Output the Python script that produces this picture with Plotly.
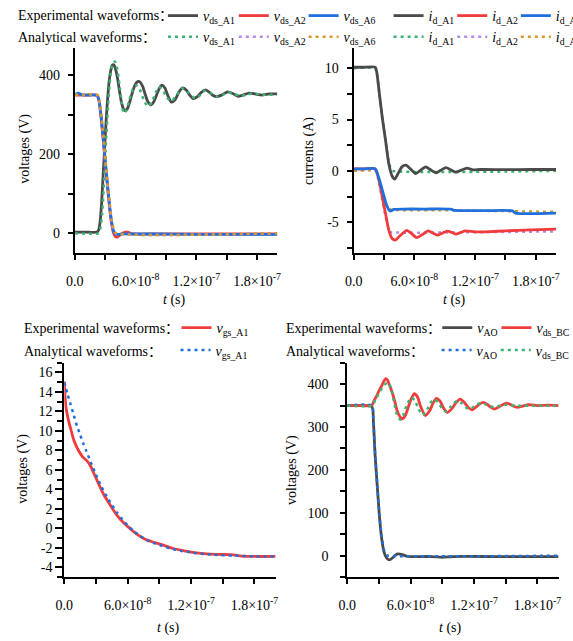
import plotly.graph_objects as go

# Reference frame is 573 x 641; the page is laid out 588 px wide because the
# capture squeezes the page width onto 573 px.
W_REF, H = 573, 641
W_PAGE = 588
KX = W_PAGE / W_REF
FONT = "Liberation Serif, Times New Roman, Noto Sans CJK SC, serif"

# ---------------- data (time in ns) ----------------
# top-left: drain-source voltages
T_VDS_A1_EXP = [0, 10, 22, 23.5, 25, 26.5, 28, 29.5, 31, 32.5, 34, 35.5, 37, 38.5, 40, 42, 44, 46, 48, 50,
                52, 54.5, 57, 59.5, 62, 64.5, 67, 69.5, 72, 75, 78, 81, 84, 86, 89, 92, 95.5, 99, 102.5, 106.5,
                110, 113.5, 117, 121, 125, 129, 133, 136.5, 140, 145, 151, 156, 161, 166, 172, 178, 185, 192, 200]
V_DS_A1_EXP = [3, 3, 3, 8, 30, 80, 150, 220, 290, 345, 388, 413, 426, 427, 418, 395, 362, 332, 315, 310,
               316, 335, 358, 376, 384, 383, 372, 352, 334, 325, 333, 352, 370, 375, 368, 348, 332, 338, 356, 368,
               363, 350, 341, 346, 357, 363, 357, 349, 346, 350, 358, 354, 347, 350, 355, 353, 350, 353, 353]
T_VDS_A2_EXP = [0, 10, 21, 22.5, 24, 26, 28, 29, 30, 32, 34, 36, 38, 40, 42, 44, 47, 50, 53, 56, 60, 80, 120, 160, 200]
V_DS_A2_EXP = [350, 350, 350, 347, 333, 290, 237, 208, 180, 125, 72, 28, 2, -8, -10, -6, 0, 3, 2, -1, -2, -2, -2, -2, -2]
T_VDS_A6_EXP = [0, 3, 6, 10, 21, 22.5, 24, 26, 28, 29, 30, 32, 34, 36, 38, 40, 43, 47, 55, 80, 120, 160, 200]
V_DS_A6_EXP = [350, 355, 352, 350, 350, 347, 335, 295, 242, 213, 185, 130, 78, 35, 8, -2, -3, -2, -2, -2, -3, -3, -3]

T_VDS_A1_ANA = [0, 23.5, 25, 27, 29, 31, 33, 35, 37, 39.7, 42, 44, 46, 48.4, 51, 54, 57.5, 60.6, 64, 68, 72, 76,
                80, 83, 87, 91, 95.5, 100, 105.8, 112, 118.7, 123, 128.4, 135, 141, 146, 151, 157, 164, 170,
                175, 185, 200]
V_DS_A1_ANA = [0, 0, 10, 50, 140, 240, 330, 395, 427, 435, 415, 378, 335, 304, 312, 340, 366, 375, 365, 338, 321, 332,
               357, 371, 362, 343, 335, 348, 367, 357, 342, 348, 361, 354, 346, 350, 357, 353, 348, 351,
               354, 351, 351]
T_VDS_A2_ANA = [0, 22, 24, 26, 28, 30, 32, 34, 36, 38, 40, 200]
V_DS_A2_ANA = [350, 350, 335, 295, 242, 185, 128, 75, 32, 8, 0, 0]
T_VDS_A6_ANA = [0, 22.5, 24.5, 26.5, 28.5, 30.5, 32.5, 34.5, 36.5, 38.5, 40.5, 200]
V_DS_A6_ANA = [350, 350, 335, 293, 240, 183, 126, 74, 32, 8, 0, 0]

# top-right: drain currents
T_ID_A1_EXP = [0, 10, 21.3, 23, 25.2, 28.4, 31.6, 34.8, 38, 40.6, 43.9, 47.7, 51.6, 56, 61.3, 66, 71.3, 76,
               81.6, 86, 91.3, 96, 101, 106, 112, 118, 125, 150, 175, 200]
I_D_A1_EXP = [10.1, 10.1, 10.1, 9.5, 7.7, 5.1, 2.9, 0.64, -0.5, -0.8, -0.26, 0.39, 0.55, 0.2, -0.26, 0.05, 0.39, 0.1,
              -0.19, 0.05, 0.32, 0.1, -0.13, 0.05, 0.26, 0.1, 0.13, 0.12, 0.13, 0.13]
T_ID_A2_EXP = [0, 10, 21.3, 25.2, 28.4, 31.6, 34.8, 38, 41.3, 46, 52.6, 57, 62.3, 68, 73.5, 78, 83.2, 88, 92.3,
               97, 101, 106, 110.6, 120, 135, 150, 175, 200]
I_D_A2_EXP = [0.2, 0.2, 0.2, -1.0, -2.6, -4.2, -5.8, -6.6, -6.75, -6.3, -5.8, -6.1, -6.5, -6.2, -5.85, -6.05, -6.27,
              -6.05, -5.88, -6.0, -6.17, -6.0, -5.85, -5.95, -5.92, -5.85, -5.75, -5.67]
T_ID_A6_EXP = [0, 10, 21.3, 25.2, 28.4, 31.6, 34.8, 36.5, 39.7, 50, 70, 96, 100, 130, 157, 160, 200]
I_D_A6_EXP = [0.2, 0.2, 0.2, -0.8, -1.9, -3.05, -3.8, -3.92, -3.76, -3.72, -3.72, -3.74, -3.86, -3.88, -3.9, -4.12, -4.12]

T_ID_A1_ANA = [0, 21, 23, 25.2, 28.4, 31.6, 34.8, 37, 38.5, 200]
I_D_A1_ANA = [10, 10, 9.4, 7.7, 5.1, 2.9, 0.8, 0.15, 0, 0]
T_ID_A2_ANA = [0, 21.5, 24, 27, 30, 33, 36, 38, 200]
I_D_A2_ANA = [0, 0, -0.7, -2.2, -3.7, -5.1, -5.95, -6.0, -5.9]
T_ID_A6_ANA = [0, 21.5, 24, 27, 30, 33, 36, 100, 200]
I_D_A6_ANA = [0, 0, -0.6, -1.7, -2.75, -3.55, -3.75, -3.85, -4.0]

# bottom-left: gate-source voltage
T_VGS_EXP = [0, 0.5, 1.5, 3.1, 6.2, 9.3, 12.4, 17, 21.7, 24.8, 27.9, 32.6, 37.2, 43.4, 49.7, 55.9, 62, 68.3, 76,
             83.8, 93, 102.4, 114.8, 127.2, 142.8, 158.3, 167.6, 180, 200]
V_GS_EXP = [15.1, 13.9, 12.5, 11.5, 10.15, 8.96, 8.2, 7.4, 6.9, 6.4, 5.66, 4.54, 3.5, 2.4, 1.36, 0.6, 0, -0.57, -1.1,
            -1.4, -1.7, -2.04, -2.33, -2.54, -2.67, -2.7, -2.84, -2.88, -2.88]
T_VGS_ANA = [0, 3, 6, 9, 12, 15, 18, 21, 25, 30, 35, 40, 45, 50, 55, 60, 66, 72, 80, 90, 100, 110, 125, 140, 160, 180, 200]
V_GS_ANA = [15.0, 13.8, 12.7, 11.6, 10.5, 9.6, 8.7, 7.9, 6.8, 5.5, 4.3, 3.3, 2.4, 1.6, 0.9, 0.3, -0.3, -0.8, -1.3,
            -1.7, -2.05, -2.3, -2.55, -2.7, -2.8, -2.87, -2.9]

# bottom-right
T_VAO_EXP = [0, 10, 23.3, 24.8, 26.4, 28.6, 30.4, 32.6, 34.8, 37.2, 40.3, 43.5, 46, 48.1, 51.2, 55.9, 60, 80, 90, 100, 140, 200]
V_AO_EXP = [350, 350, 348, 311, 234, 156, 94, 40, 9, -5, -10, -4, 2, 4, 3, -1, -2, -2, -4, -2, -2, -2]
T_VBC_EXP = [0, 10, 23.3, 25.5, 27.9, 30.2, 32.6, 34.5, 36.3, 38, 39.7, 41.5, 43.5, 45.5, 47.2, 50, 52.1, 55, 58, 61,
             63.6, 66.5, 69.5, 73.9, 78, 81.5, 84.4, 88, 91, 94.7, 99, 103, 107, 111, 114.5, 118, 122, 125.5, 128.8, 133,
             136, 139, 143, 147, 150.5, 155, 158, 161.4, 166, 172, 180, 190, 200]
V_BC_EXP = [350, 350, 351, 362, 373, 385, 396, 406, 413, 410, 400, 388, 373, 355, 338, 324, 319, 327, 348, 368,
            378, 370, 348, 327, 338, 357, 367, 360, 345, 334, 343, 357, 365, 357, 346, 340, 347, 354, 357.6, 352,
            346, 342, 346, 352, 356, 352, 348, 346, 349, 352, 350, 351, 350]
T_VAO_ANA = [0, 23.3, 24.8, 26.4, 28.6, 30.4, 32.6, 34.8, 37.2, 39, 200]
V_AO_ANA = [350, 350, 313, 238, 160, 98, 44, 14, 2, 0, 0]
T_VBC_ANA = [0, 23.3, 27, 31, 35, 38.8, 41.5, 44, 47, 50.3, 53, 56.5, 60.5, 64, 67.5, 71.4, 75, 78.5, 82.2, 86,
             89.5, 93.1, 97, 100.5, 104.6, 108.5, 112, 115.8, 119.5, 123, 127, 131, 135, 139, 150, 160, 200]
V_BC_ANA = [350, 350, 365, 383, 398, 404, 390, 362, 330, 317, 328, 352, 369, 362, 342, 328, 338, 355, 365, 358,
            344, 336, 345, 355, 361, 355, 346, 342, 347, 353, 356, 353, 348, 347, 352, 350, 350]

X_TICKS = [0, 6e-8, 1.2e-7, 1.8e-7]
X_TICKTEXT = ["0.0", "6.0×10<sup>-8</sup>", "1.2×10<sup>-7</sup>", "1.8×10<sup>-7</sup>"]
X_MINOR = [3e-8, 9e-8, 1.5e-7]

Y1_TICKS = [0, 200, 400]
Y1_MINOR = [100, 300]
Y2_TICKS = [-5, 0, 5, 10]
Y2_TICKTEXT = ["-5", "0", "5", "10"]
Y2_MINOR = [-7.5, -2.5, 2.5, 7.5]
Y3_TICKS = [-4, -2, 0, 2, 4, 6, 8, 10, 12, 14, 16]
Y3_TICKTEXT = ["-4", "-2", "0", "2", "4", "6", "8", "10", "12", "14", "16"]
Y3_MINOR = [-5, -3, -1, 1, 3, 5, 7, 9, 11, 13, 15, 17]
Y4_TICKS = [0, 100, 200, 300, 400]
Y4_MINOR = [-50, 50, 150, 250, 350, 450]

GRAY, RED, BLUE = "#4a4a4a", "#f03c3c", "#1f6fdc"
GREEN, PURPLE, ORANGE = "#3cb371", "#b58ae6", "#d39a2a"
DOT = "3px,4px"


def ns(ts):
    return [t * 1e-9 for t in ts]


def X(px):
    return px / W_REF


def Y(py):
    return 1 - py / H


def LW(px):
    # horizontal legend spacing in page pixels
    return px * KX


fig = go.Figure()


def add(t, v, color, name, xa, ya, legend, lw, dotted=False, rank=None):
    fig.add_trace(go.Scatter(
        x=ns(t), y=v, mode="lines", name=name, xaxis=xa, yaxis=ya, legend=legend,
        legendwidth=lw, legendrank=rank if rank is not None else 1000,
        line=dict(color=color, width=2.5 if dotted else 2.8, dash=DOT if dotted else "solid",
                  shape="spline", smoothing=0.6),
        hoverinfo="skip"))


def lab(base, sub):
    return "<i>%s</i><sub>%s</sub>" % (base, sub)


# entry pitch in the reference: 69, 68, ~85, 62, 62 px  (pitch = 45 + legendwidth, page px)
TOP_LW = [LW(69) - 45, LW(68) - 45, 40, LW(62) - 45, LW(62) - 45, 27]

# subplot 1 (analytical drawn on top)
add(T_VDS_A1_EXP, V_DS_A1_EXP, GRAY, lab("v", "ds_A1"), "x", "y", "legend", TOP_LW[0], rank=1)
add(T_VDS_A2_EXP, V_DS_A2_EXP, RED, lab("v", "ds_A2"), "x", "y", "legend", TOP_LW[1], rank=2)
add(T_VDS_A6_EXP, V_DS_A6_EXP, BLUE, lab("v", "ds_A6"), "x", "y", "legend", TOP_LW[2], rank=3)
add(T_VDS_A1_ANA, V_DS_A1_ANA, GREEN, lab("v", "ds_A1"), "x", "y", "legend2", TOP_LW[0], True, rank=1)
add(T_VDS_A2_ANA, V_DS_A2_ANA, PURPLE, lab("v", "ds_A2"), "x", "y", "legend2", TOP_LW[1], True, rank=2)
add(T_VDS_A6_ANA, V_DS_A6_ANA, ORANGE, lab("v", "ds_A6"), "x", "y", "legend2", TOP_LW[2], True, rank=3)
# subplot 2 (analytical drawn underneath)
add(T_ID_A1_ANA, I_D_A1_ANA, GREEN, lab("i", "d_A1"), "x2", "y2", "legend2", TOP_LW[3], True, rank=4)
add(T_ID_A2_ANA, I_D_A2_ANA, PURPLE, lab("i", "d_A2"), "x2", "y2", "legend2", TOP_LW[4], True, rank=5)
add(T_ID_A6_ANA, I_D_A6_ANA, ORANGE, lab("i", "d_A6"), "x2", "y2", "legend2", TOP_LW[5], True, rank=6)
add(T_ID_A1_EXP, I_D_A1_EXP, GRAY, lab("i", "d_A1"), "x2", "y2", "legend", TOP_LW[3], rank=4)
add(T_ID_A2_EXP, I_D_A2_EXP, RED, lab("i", "d_A2"), "x2", "y2", "legend", TOP_LW[4], rank=5)
add(T_ID_A6_EXP, I_D_A6_EXP, BLUE, lab("i", "d_A6"), "x2", "y2", "legend", TOP_LW[5], rank=6)
# subplot 3
add(T_VGS_EXP, V_GS_EXP, RED, lab("v", "gs_A1"), "x3", "y3", "legend3", 42)
add(T_VGS_ANA, V_GS_ANA, BLUE, lab("v", "gs_A1"), "x3", "y3", "legend4", 42, True)
# subplot 4
BR_LW = [LW(57.7) - 45, 33]
add(T_VAO_EXP, V_AO_EXP, GRAY, lab("v", "AO"), "x4", "y4", "legend5", BR_LW[0], rank=1)
add(T_VBC_EXP, V_BC_EXP, RED, lab("v", "ds_BC"), "x4", "y4", "legend5", BR_LW[1], rank=2)
add(T_VAO_ANA, V_AO_ANA, BLUE, lab("v", "AO"), "x4", "y4", "legend6", BR_LW[0], True, rank=1)
add(T_VBC_ANA, V_BC_ANA, GREEN, lab("v", "ds_BC"), "x4", "y4", "legend6", BR_LW[1], True, rank=2)

tickfont = dict(family=FONT, size=14, color="black")


def xaxis(x0, x1, y_anchor, standoff):
    return dict(domain=[X(x0), X(x1)], anchor=y_anchor, range=[0, 2e-7],
                tickmode="array", tickvals=X_TICKS, ticktext=X_TICKTEXT,
                ticks="outside", ticklen=5, tickwidth=1.5, tickcolor="black",
                minor=dict(tickvals=X_MINOR, ticks="outside", ticklen=5, tickwidth=1.5, tickcolor="black"),
                showline=True, linewidth=2, linecolor="black", showgrid=False, zeroline=False,
                tickfont=tickfont, ticklabelstandoff=standoff)


def yaxis(y0, y1, x_anchor, rng, tv, tt, minor, standoff, ticklen=5):
    return dict(domain=[Y(y1), Y(y0)], anchor=x_anchor, range=rng,
                tickmode="array", tickvals=tv, ticktext=tt,
                ticks="outside", ticklen=ticklen, tickwidth=1.5, tickcolor="black",
                minor=dict(tickvals=minor, ticks="outside", ticklen=5, tickwidth=1.5, tickcolor="black"),
                showline=True, linewidth=2, linecolor="black", showgrid=False, zeroline=False,
                tickfont=tickfont, ticklabelstandoff=standoff)


legfont = dict(family=FONT, size=14, color="black")


def legend(xpx, ypx):
    return dict(x=X(xpx), y=Y(ypx), xanchor="left", yanchor="middle", orientation="h",
                font=legfont, bgcolor="rgba(0,0,0,0)", itemwidth=30, traceorder="normal",
                borderwidth=0, indentation=0)


annotations = []


def text(xpx, ypx, s, anchor="left", angle=0, size=14):
    annotations.append(dict(x=X(xpx), y=Y(ypx), xref="paper", yref="paper", text=s, showarrow=False,
                            xanchor=anchor, yanchor="middle", textangle=angle,
                            font=dict(family=FONT, size=size, color="black")))


text(7, 12, "Experimental waveforms：")
text(7, 34, "Analytical waveforms：")
text(13, 327, "Experimental waveforms：")
text(13, 349.5, "Analytical waveforms：")
text(281.5, 327, "Experimental waveforms：")
text(281.5, 349.5, "Analytical waveforms：")
text(17, 146, "voltages (V)", "center", -90)
text(307, 147.5, "currents (A)", "center", -90)
text(14, 468, "voltages (V)", "center", -90)
text(290, 469, "voltages (V)", "center", -90)
text(170, 298, "<i>t</i> (s)", "center")
text(457, 298, "<i>t</i> (s)", "center")
text(164, 628, "<i>t</i> (s)", "center")
text(453, 628, "<i>t</i> (s)", "center")

fig.update_layout(
    width=W_PAGE, height=H, margin=dict(l=0, r=0, t=0, b=0),
    paper_bgcolor="white", plot_bgcolor="white",
    xaxis=xaxis(67.5, 275, "y", 9),
    yaxis=yaxis(44, 250.5, "x", [-50, 470], Y1_TICKS, [str(v) for v in Y1_TICKS], Y1_MINOR, 5),
    xaxis2=xaxis(353.3, 560.7, "y2", 9),
    yaxis2=yaxis(44, 250.5, "x2", [-8, 12], Y2_TICKS, Y2_TICKTEXT, Y2_MINOR, 5),
    xaxis3=xaxis(56.7, 273.3, "y3", 9),
    yaxis3=yaxis(361, 576.7, "x3", [-5, 17], Y3_TICKS, Y3_TICKTEXT, Y3_MINOR, 0, ticklen=7),
    xaxis4=xaxis(346.7, 563.3, "y4", 9),
    yaxis4=yaxis(361, 576.7, "x4", [-50, 450], Y4_TICKS, [str(v) for v in Y4_TICKS], Y4_MINOR, 9),
    legend=legend(158, 11.7),
    legend2=legend(158, 33.3),
    legend3=legend(171.7, 326),
    legend4=legend(170.7, 348.7),
    legend5=legend(439, 326),
    legend6=legend(438.3, 348.7),
    annotations=annotations,
    showlegend=True,
)

fig.write_html("out.html",
               post_script="document.body.style.margin='0';document.body.style.padding='0';"
                           "document.body.style.overflow='hidden';"
                           "document.documentElement.style.overflow='hidden';")
